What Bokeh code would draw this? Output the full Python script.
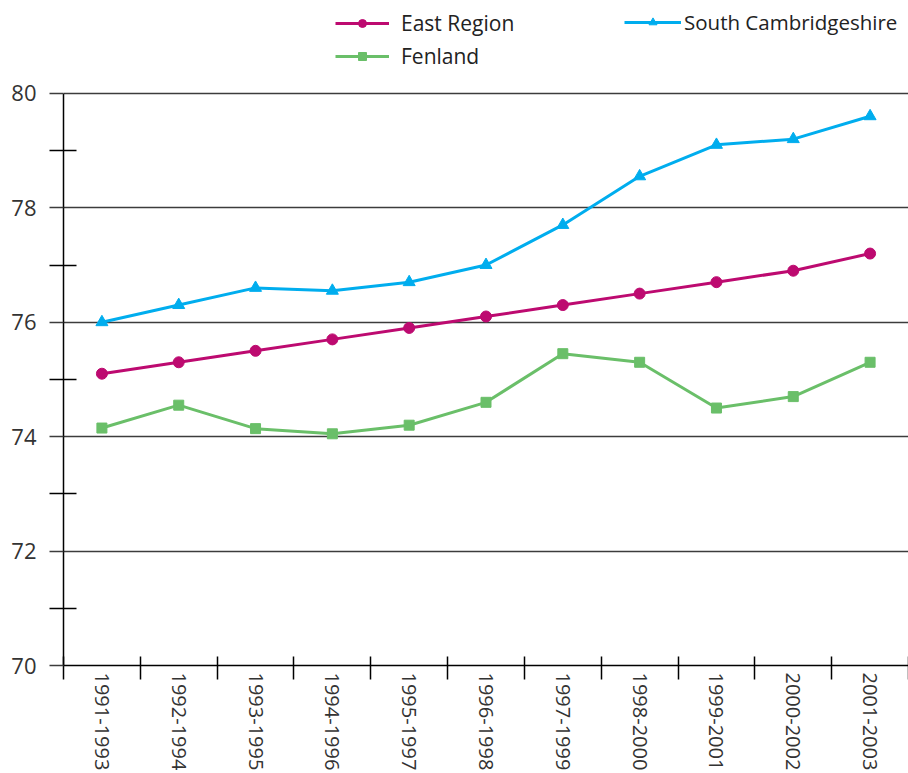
import math
from bokeh.plotting import figure
from bokeh.models import (Range1d, FixedTicker, Legend, LegendItem, ColumnDataSource)
from bokeh.embed import file_html
from bokeh.resources import INLINE

periods = ["1991-1993", "1992-1994", "1993-1995", "1994-1996", "1995-1997", "1996-1998",
           "1997-1999", "1998-2000", "1999-2001", "2000-2002", "2001-2003"]
east_region = [75.1, 75.3, 75.5, 75.7, 75.9, 76.1, 76.3, 76.5, 76.7, 76.9, 77.2]
south_cambs = [76.0, 76.3, 76.6, 76.55, 76.7, 77.0, 77.7, 78.55, 79.1, 79.2, 79.6]
fenland = [74.15, 74.55, 74.14, 74.05, 74.2, 74.6, 75.45, 75.3, 74.5, 74.7, 75.3]
y_ticks = [70, 72, 74, 76, 78, 80]
y_minor = [71, 73, 75, 77, 79]

FONT = "Open Sans"
C_EAST = "#bd0a70"
C_SOUTH = "#00adee"
C_FEN = "#6abf69"

xs = [i + 0.5 for i in range(len(periods))]

# the frame reaches the top of the canvas so the legend (drawn inside the frame) stays visible;
# axis 70..80 occupies the lower 573 px of the 666 px frame
Y_MIN, Y_MAX = 70, 80
y_top = Y_MAX + (Y_MAX - Y_MIN) * 93 / 573

p = figure(width=908, height=773, output_backend="svg", toolbar_location=None,
           x_range=Range1d(0, len(periods)), y_range=Range1d(Y_MIN, y_top),
           min_border_left=63, min_border_right=0, min_border_top=0, min_border_bottom=107)
p.outline_line_color = None
p.background_fill_color = "white"
p.border_fill_color = "white"

src = ColumnDataSource(dict(x=xs, east=east_region, south=south_cambs, fen=fenland))

l_e = p.line("x", "east", source=src, line_color=C_EAST, line_width=3)
m_e = p.scatter("x", "east", source=src, marker="circle", size=11, fill_color=C_EAST, line_color=C_EAST)
l_s = p.line("x", "south", source=src, line_color=C_SOUTH, line_width=3)
m_s = p.scatter("x", "south", source=src, marker="triangle", size=12, fill_color=C_SOUTH, line_color=C_SOUTH)
l_f = p.line("x", "fen", source=src, line_color=C_FEN, line_width=3)
m_f = p.scatter("x", "fen", source=src, marker="square", size=10, fill_color=C_FEN, line_color=C_FEN)

# grids
p.xgrid.visible = False
p.ygrid.ticker = FixedTicker(ticks=y_ticks)
p.ygrid.grid_line_color = "#3c3c3c"
p.ygrid.grid_line_width = 1.5

# y axis
p.yaxis.bounds = (Y_MIN, Y_MAX)
p.yaxis.ticker = FixedTicker(ticks=y_ticks, minor_ticks=y_minor)
p.yaxis.axis_line_color = "black"
p.yaxis.axis_line_width = 1.5
p.yaxis.major_tick_out = 14
p.yaxis.major_tick_in = 0
p.yaxis.major_tick_line_color = "#3c3c3c"
p.yaxis.major_tick_line_width = 1.5
p.yaxis.minor_tick_out = 14
p.yaxis.minor_tick_in = 13
p.yaxis.minor_tick_line_color = "black"
p.yaxis.minor_tick_line_width = 1.5
p.yaxis.major_label_standoff = 13
p.yaxis.major_label_text_font = FONT
p.yaxis.major_label_text_font_size = "22px"
p.yaxis.major_label_text_color = "#333333"

# x axis: labels at category centres, ticks at boundaries
p.xaxis.ticker = FixedTicker(ticks=xs, minor_ticks=list(range(len(periods) + 1)))
p.xaxis.major_label_overrides = {x: lab for x, lab in zip(xs, periods)}
p.xaxis.major_label_orientation = -math.pi / 2
p.xaxis.major_tick_out = 0
p.xaxis.major_tick_in = 0
p.xaxis.minor_tick_out = 14
p.xaxis.minor_tick_in = 9
p.xaxis.minor_tick_line_color = "black"
p.xaxis.minor_tick_line_width = 1.5
p.xaxis.axis_line_color = "black"
p.xaxis.axis_line_width = 1.5
p.xaxis.major_label_standoff = -7
p.xaxis.major_label_text_font = FONT
p.xaxis.major_label_text_font_size = "20px"
p.xaxis.major_label_text_color = "#333333"

def make_legend(items, loc, glyph_w, standoff, fsize):
    lg = Legend(items=items, location=loc, orientation="vertical")
    lg.border_line_color = None
    lg.background_fill_alpha = 0
    lg.padding = 0
    lg.margin = 0
    lg.glyph_width = glyph_w
    lg.glyph_height = 20
    lg.label_height = 20
    lg.spacing = 5
    lg.label_standoff = standoff
    lg.label_text_font = FONT
    lg.label_text_font_size = fsize
    lg.label_text_color = "#222222"
    return lg

leg1 = make_legend([LegendItem(label="East Region", renderers=[l_e, m_e]),
                    LegendItem(label="Fenland", renderers=[l_f, m_f])], (272, 595), 54, 12, "21px")
leg2 = make_legend([LegendItem(label="South Cambridgeshire", renderers=[l_s, m_s])], (561, 629), 57, 3, "20.5px")
p.add_layout(leg1, "center")
p.add_layout(leg2, "center")

open("out.html", "w").write(file_html(p, INLINE))
